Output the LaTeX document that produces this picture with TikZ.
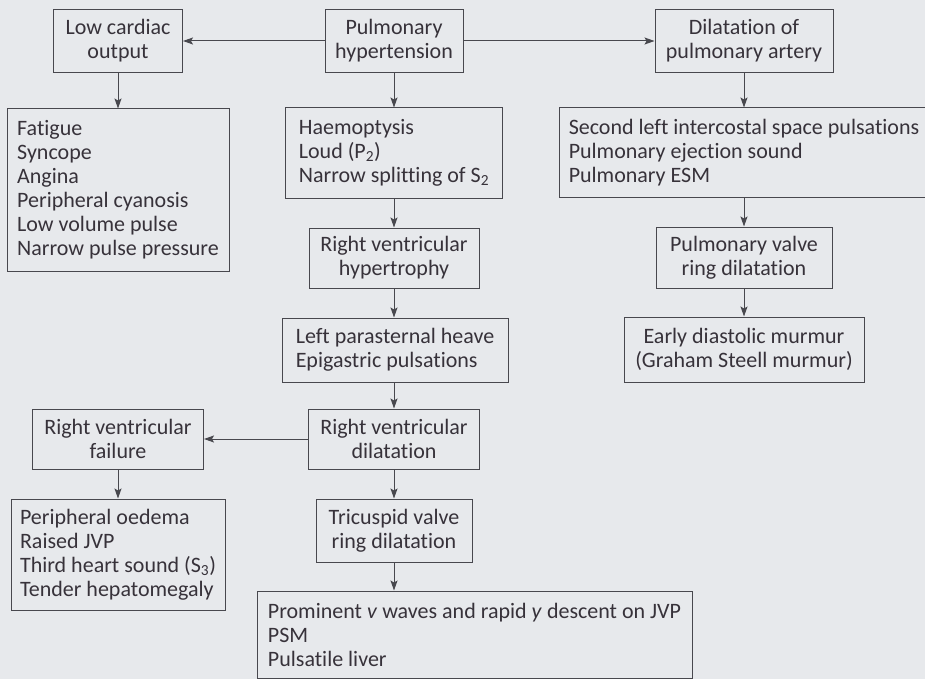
\documentclass[tikz,border=0pt]{standalone}
\usepackage{fontspec}
\setmainfont{Carlito}[Ligatures={NoCommon}]
\usetikzlibrary{arrows.meta, positioning}
\definecolor{bgcol}{RGB}{231,233,236}
\definecolor{linecol}{RGB}{72,72,78}
\definecolor{textcol}{RGB}{55,50,58}

\begin{document}
\begin{tikzpicture}[
    x=1pt, y=-1pt,
    font=\fontsize{22}{24}\selectfont,
    block/.style={
        draw=linecol,
        fill=bgcol,
        text=textcol,
        line width=1pt,
        align=flush center,
        inner sep=0pt
    },
    listbox/.style={block, align=flush left},
    arrow/.style={-{Stealth[length=10pt, width=7pt, inset=2pt]}, draw=linecol, line width=1pt}
]
\fill[bgcol] (0,0) rectangle (925,679);
\useasboundingbox (0,0) rectangle (925,679);

% top row
\node[block, minimum width=129pt, minimum height=63pt] (lowco) at (118,41) {Low cardiac\\output};
\node[block, minimum width=138pt, minimum height=63pt] (pulhyp) at (394,41) {Pulmonary\\hypertension};
\node[block, minimum width=178pt, minimum height=63pt] (dilpa) at (744,41) {Dilatation of\\pulmonary artery};

% signs
\node[listbox, minimum width=222pt, minimum height=162pt] (fatigue) at (118,190) {Fatigue\\Syncope\\Angina\\Peripheral cyanosis\\Low volume pulse\\Narrow pulse pressure};
\node[listbox, minimum width=217pt, minimum height=90pt] (haemo) at (394,153) {Haemoptysis\\Loud (P\textsubscript{2})\\Narrow splitting of S\textsubscript{2}};
\node[listbox, minimum width=370pt, minimum height=89pt] (second) at (744,152.5) {Second left intercostal space pulsations\\Pulmonary ejection sound\\Pulmonary ESM};

% right column
\node[block, minimum width=176pt, minimum height=61pt] (pvring) at (744,257.5) {Pulmonary valve\\ring dilatation};
\node[block, minimum width=240pt, minimum height=65pt] (edm) at (744,349.5) {Early diastolic murmur\\(Graham Steell murmur)};

% centre column
\node[block, minimum width=170pt, minimum height=60pt] (rvhyp) at (394,258) {Right ventricular\\hypertrophy};
\node[listbox, minimum width=226pt, minimum height=64pt] (heave) at (395,350) {Left parasternal heave\\Epigastric pulsations};
\node[block, minimum width=171pt, minimum height=60pt] (rvdil) at (394,439) {Right ventricular\\dilatation};
\node[block, minimum width=156pt, minimum height=63pt] (tvring) at (394,530.5) {Tricuspid valve\\ring dilatation};
\node[listbox, minimum width=435pt, minimum height=87pt] (prom) at (474.5,634.5) {Prominent \textit{v} waves and rapid \textit{y} descent on JVP\\PSM\\Pulsatile liver};

% left column
\node[block, minimum width=171pt, minimum height=60pt] (rvfail) at (118,439) {Right ventricular\\failure};
\node[listbox, minimum width=214pt, minimum height=111pt] (oedema) at (118,554.5) {Peripheral oedema\\Raised JVP\\Third heart sound (S\textsubscript{3})\\Tender hepatomegaly};

\draw[arrow] (pulhyp) -- (lowco);
\draw[arrow] (pulhyp) -- (dilpa);
\draw[arrow] (lowco) -- (fatigue);
\draw[arrow] (pulhyp) -- (haemo);
\draw[arrow] (dilpa) -- (second);
\draw[arrow] (second) -- (pvring);
\draw[arrow] (pvring) -- (edm);
\draw[arrow] (haemo) -- (rvhyp);
\draw[arrow] (rvhyp) -- (heave.north -| rvhyp.south);
\draw[arrow] (heave.south -| rvdil.north) -- (rvdil);
\draw[arrow] (rvdil) -- (rvfail);
\draw[arrow] (rvfail) -- (oedema);
\draw[arrow] (rvdil) -- (tvring);
\draw[arrow] (tvring) -- (tvring |- prom.north);
\end{tikzpicture}
\end{document}
